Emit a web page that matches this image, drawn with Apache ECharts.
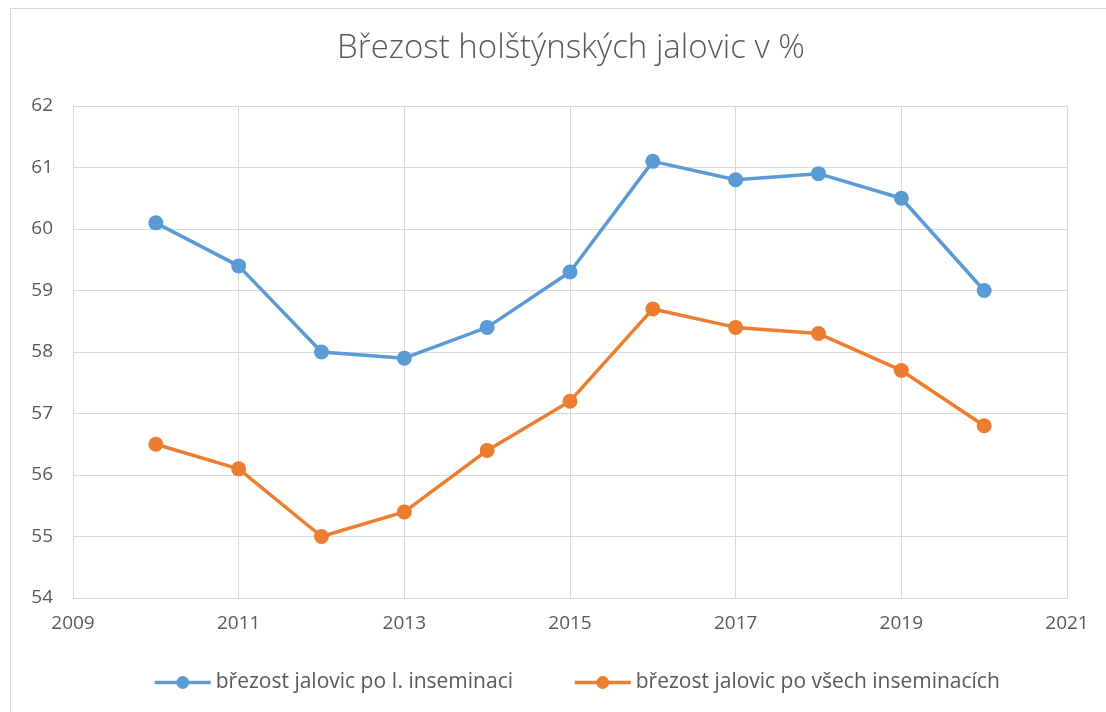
<!DOCTYPE html>
<html>
<head>
<meta charset="utf-8">
<script src="https://cdn.jsdelivr.net/npm/echarts@6/dist/echarts.min.js"></script>
<style>
  html, body { margin: 0; padding: 0; background: #fff; }
  #chart { width: 1106px; height: 712px; }
</style>
</head>
<body>
<div id="chart"></div>
<script>
var years = [2010, 2011, 2012, 2013, 2014, 2015, 2016, 2017, 2018, 2019, 2020];
var poPrvni = [60.1, 59.4, 58.0, 57.9, 58.4, 59.3, 61.1, 60.8, 60.9, 60.5, 59.0];
var poVsech = [56.5, 56.1, 55.0, 55.4, 56.4, 57.2, 58.7, 58.4, 58.3, 57.7, 56.8];
var seriesNames = ['březost jalovic po I. inseminaci', 'březost jalovic po všech inseminacích'];

function pairs(vals) {
    return years.map(function (y, i) { return [y, vals[i]]; });
}

var textColor = '#595959';
var font = 'Open Sans';

var chart = echarts.init(document.getElementById('chart'));
chart.setOption({
    animation: false,
    color: ['#5B9BD5', '#ED7D31'],
    graphic: [{
        type: 'rect',
        shape: { x: 10.5, y: 8.5, width: 1110, height: 720 },
        style: { fill: 'none', stroke: '#d9d9d9', lineWidth: 1 },
        silent: true
    }],
    title: {
        text: 'Březost holštýnských jalovic v %',
        left: 566,
        textAlign: 'center',
        top: 27,
        textStyle: { fontFamily: font, fontSize: 33, fontWeight: 300, color: textColor }
    },
    legend: {
        bottom: 14,
        left: 148,
        itemWidth: 56,
        itemHeight: 16,
        itemGap: 60,
        textStyle: { fontFamily: font, fontSize: 21, color: textColor },
        lineStyle: { width: 3.5 },
        data: seriesNames
    },
    grid: { left: 73, right: 39, top: 106, bottom: 114, containLabel: false },
    xAxis: {
        type: 'value',
        min: 2009,
        max: 2021,
        interval: 2,
        axisLine: { show: true, lineStyle: { color: '#d9d9d9', width: 1 } },
        axisTick: { show: false },
        splitLine: { show: true, lineStyle: { color: '#d9d9d9', width: 1 } },
        axisLabel: {
            fontFamily: font, fontSize: 19, color: textColor, margin: 16,
            formatter: function (v) { return String(v); }
        }
    },
    yAxis: {
        type: 'value',
        min: 54,
        max: 62,
        interval: 1,
        axisLine: { show: true, lineStyle: { color: '#d9d9d9', width: 1 } },
        axisTick: { show: false },
        splitLine: { show: true, lineStyle: { color: '#d9d9d9', width: 1 } },
        axisLabel: { fontFamily: font, fontSize: 19, color: textColor, margin: 20 }
    },
    series: [{
        name: seriesNames[0],
        type: 'line',
        data: pairs(poPrvni),
        symbol: 'circle',
        symbolSize: 15,
        lineStyle: { width: 3.5 }
    }, {
        name: seriesNames[1],
        type: 'line',
        data: pairs(poVsech),
        symbol: 'circle',
        symbolSize: 15,
        lineStyle: { width: 3.5 }
    }]
});
</script>
</body>
</html>
